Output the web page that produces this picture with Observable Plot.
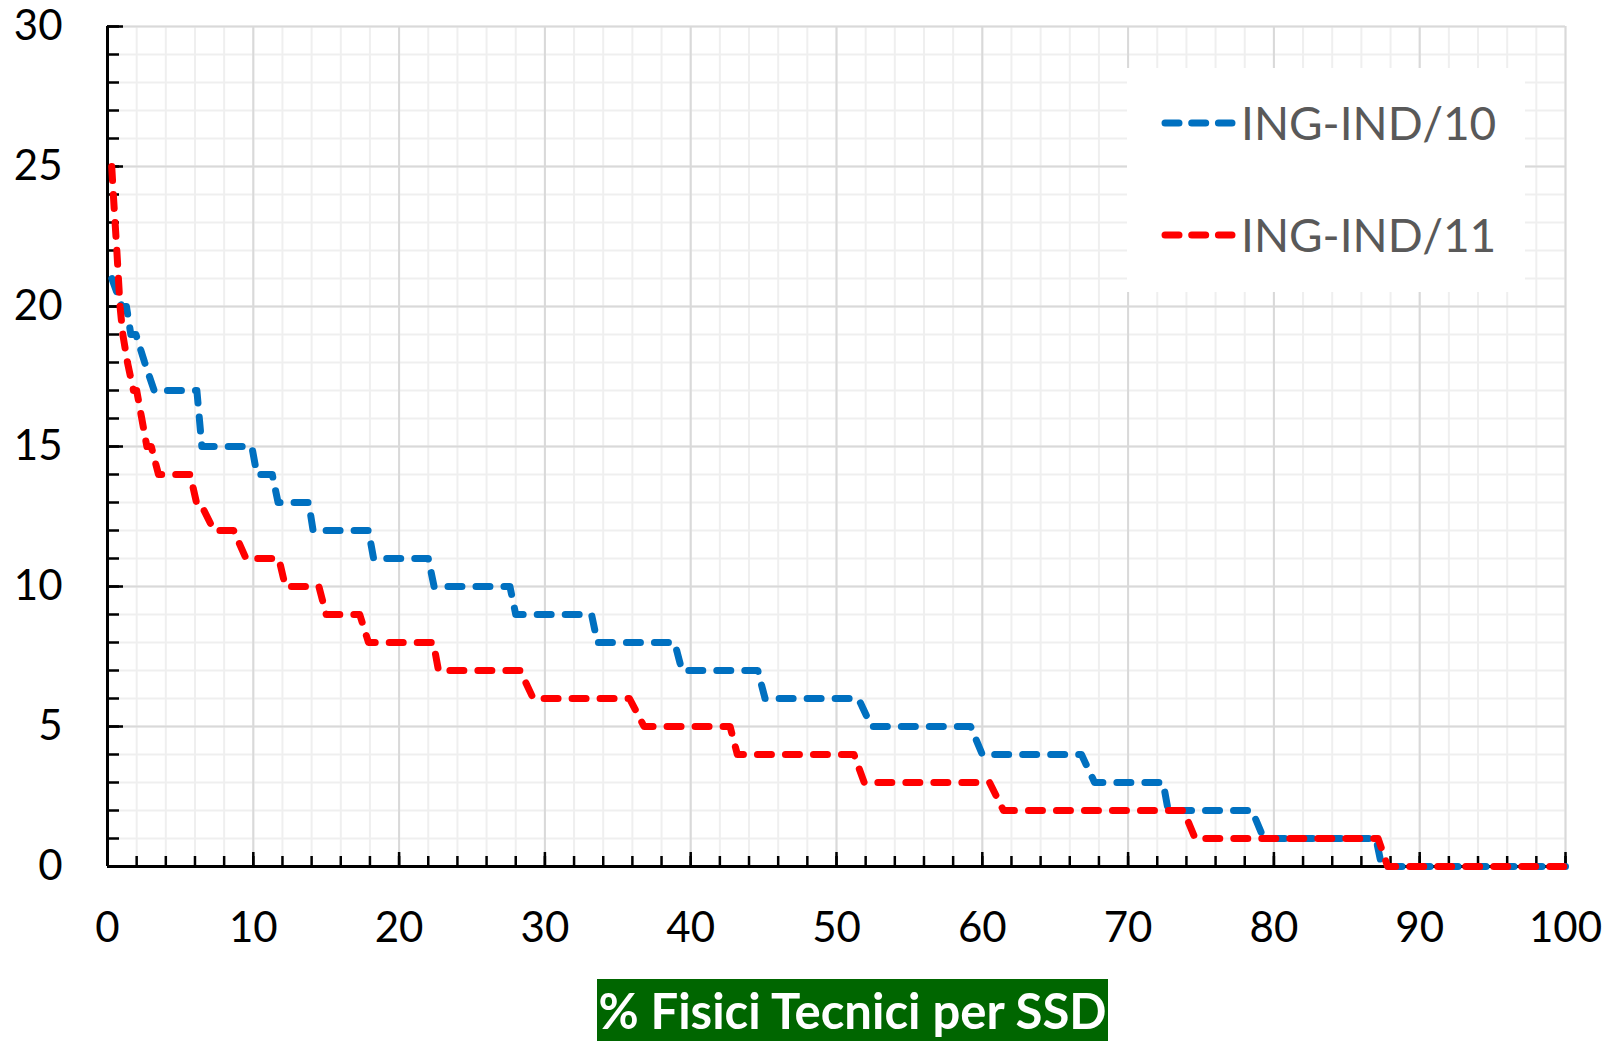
<!DOCTYPE html>
<html>
<head>
<meta charset="utf-8">
<script src="https://cdn.jsdelivr.net/npm/d3@7"></script>
<script src="https://cdn.jsdelivr.net/npm/@observablehq/plot@0.6"></script>
<style>
  html, body { margin: 0; padding: 0; background: #ffffff; }
  body { font-family: Lato, "Open Sans", sans-serif; }
  #wrap { position: relative; width: 1620px; height: 1041px; overflow: hidden; background: #fff; }
  #chart svg { display: block; }
  #legend { position: absolute; left: 1127px; top: 68px; }
  #xtitle {
    position: absolute; left: 597px; top: 979px; width: 511px; height: 62px;
    background: #006600; color: #ffffff; font-weight: 700; font-size: 49px;
    line-height: 62px; text-align: center; white-space: nowrap;
    font-family: Lato, "Open Sans", sans-serif;
  }
</style>
</head>
<body>
<div id="wrap">
  <div id="chart"></div>
  <div id="legend"></div>
  <div id="xtitle">% Fisici Tecnici per SSD</div>
</div>
<script>
// ---- tick labels / grid steps ----
const xTicks = [0, 10, 20, 30, 40, 50, 60, 70, 80, 90, 100];
const yTicks = [0, 5, 10, 15, 20, 25, 30];
const xMinor = d3.range(0, 101, 2);
const yMinor = d3.range(0, 31, 1);

// ---- series ----
const seriesNames = ["ING-IND/10", "ING-IND/11"];
const seriesColors = ["#0070C0", "#FF0000"];

// ING-IND/10 (blue)
const blueX = [0.3, 0.98, 1.3, 1.6, 1.95, 2.55, 3.2, 6.13, 6.3, 6.47, 9.9, 10.25, 11.3, 11.7, 13.8, 14.1, 17.9, 18.25, 22.0, 22.4, 27.6, 28.0, 33.2, 33.6, 38.9, 39.4, 44.6, 45.1, 51.5, 52.4, 59.2, 60.0, 66.8, 67.7, 72.4, 72.75, 78.5, 79.3, 87.0, 87.4, 100];
const blueY = [21, 20, 20, 19, 19, 18, 17, 17, 16, 15, 15, 14, 14, 13, 13, 12, 12, 11, 11, 10, 10, 9, 9, 8, 8, 7, 7, 6, 6, 5, 5, 4, 4, 3, 3, 2, 2, 1, 1, 0, 0];

// ING-IND/11 (red)
const redX = [0.29, 0.40, 0.52, 0.64, 0.75, 0.86, 1.05, 1.37, 1.78, 2.0, 2.35, 2.7, 3.0, 3.5, 5.67, 6.1, 6.35, 7.3, 8.65, 9.5, 11.75, 12.2, 14.5, 15.0, 17.3, 17.9, 22.35, 22.7, 28.3, 29.2, 35.8, 36.8, 42.7, 43.2, 51.2, 51.9, 60.5, 61.45, 73.8, 74.6, 87.15, 87.8, 100];
const redY = [25, 24, 23, 22, 21, 20, 19, 18, 17, 17, 16, 15, 15, 14, 14, 13, 13, 12, 12, 11, 11, 10, 10, 9, 9, 8, 8, 7, 7, 6, 6, 5, 5, 4, 4, 3, 3, 2, 2, 1, 1, 0, 0];

const toRows = (xs, ys) => xs.map((x, i) => ({x, y: ys[i]}));
const blueData = toRows(blueX, blueY);
const redData = toRows(redX, redY);

const W = 1620, H = 978, mL = 107, mR = 55, mT = 26, mB = 112;
const pw = W - mL - mR, ph = H - mT - mB;
const font = "Lato, 'Open Sans', sans-serif";
const lineStyle = {strokeWidth: 7, strokeDasharray: "14,14", strokeLinecap: "round", strokeLinejoin: "round"};

const chart = Plot.plot({
  width: W, height: H,
  marginLeft: mL, marginRight: mR, marginTop: mT, marginBottom: mB,
  x: {domain: [0, 100], axis: null},
  y: {domain: [0, 30], axis: null},
  style: {fontFamily: font, background: "transparent", overflow: "visible"},
  marks: [
    // minor grid
    Plot.ruleX(xMinor, {stroke: "#EFEFEF", strokeWidth: 2}),
    Plot.ruleY(yMinor, {stroke: "#EFEFEF", strokeWidth: 2}),
    // major grid
    Plot.ruleX(xTicks, {stroke: "#D9D9D9", strokeWidth: 2}),
    Plot.ruleY(yTicks, {stroke: "#D9D9D9", strokeWidth: 2}),
    // inward tick marks on y axis
    Plot.ruleY(yMinor, {stroke: "#000", strokeWidth: 2.5, insetRight: pw - 12}),
    Plot.ruleY(yTicks, {stroke: "#000", strokeWidth: 2.5, insetRight: pw - 16}),
    // inward tick marks on x axis
    Plot.ruleX(xMinor, {stroke: "#000", strokeWidth: 2.5, insetTop: ph - 10}),
    Plot.ruleX(xTicks, {stroke: "#000", strokeWidth: 2.5, insetTop: ph - 14}),
    // axis lines
    Plot.ruleX([0], {stroke: "#000", strokeWidth: 3}),
    Plot.ruleY([0], {stroke: "#000", strokeWidth: 3}),
    // tick labels
    Plot.text(xTicks, {x: d => d, y: 0, dy: 62, text: d => String(d), fontSize: 42, fill: "#000"}),
    Plot.text(yTicks, {x: 0, y: d => d, dx: -45, textAnchor: "end", text: d => String(d), fontSize: 42, fill: "#000"}),
    // series
    Plot.line(blueData, {x: "x", y: "y", stroke: seriesColors[0], ...lineStyle}),
    Plot.line(redData, {x: "x", y: "y", stroke: seriesColors[1], ...lineStyle})
  ]
});
document.getElementById("chart").appendChild(chart);

// ---- legend ----
const lg = d3.select("#legend").append("svg")
  .attr("width", 398).attr("height", 224)
  .style("display", "block");
lg.append("rect").attr("width", 398).attr("height", 224).attr("fill", "#ffffff");
const rowsY = [55, 167];
seriesNames.forEach((name, i) => {
  const g = lg.append("g");
  g.append("line")
    .attr("x1", 38).attr("x2", 105).attr("y1", rowsY[i]).attr("y2", rowsY[i])
    .attr("stroke", seriesColors[i]).attr("stroke-width", 7)
    .attr("stroke-linecap", "round").attr("stroke-dasharray", "14,12.7");
  g.append("text")
    .attr("x", 114).attr("y", rowsY[i] + 17)
    .attr("fill", "#595959").attr("font-size", 46)
    .attr("font-family", font)
    .text(name);
});
</script>
</body>
</html>
